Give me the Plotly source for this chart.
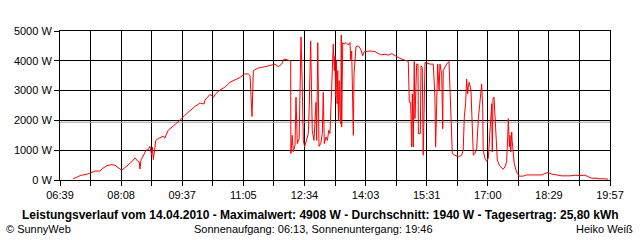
import plotly.graph_objects as go

# ---- data ----
tick_labels = ["06:39", "08:08", "09:37", "11:05", "12:34", "14:03", "15:31", "17:00", "18:29", "19:57"]
y_ticks = [0, 1000, 2000, 3000, 4000, 5000]
y_tick_labels = ["0 W", "1000 W", "2000 W", "3000 W", "4000 W", "5000 W"]
average_w = 1940

# time in minutes since midnight
minutes = [418, 423, 429, 438, 445, 450, 457, 461, 467, 474, 479, 484, 488.5, 492, 496, 499, 503, 508, 511, 514, 515, 516.5,
           520, 524, 527, 529.5, 532, 533, 534.5, 538, 541.6, 549, 551, 556, 558.6, 566, 573, 580, 587.6, 595, 602, 608, 609,
           616.6, 622, 624, 631, 638, 645.7, 653, 660, 667, 672, 674.7, 676, 677.6, 679.5, 686.7, 696, 703.7, 708.5, 711,
           715.7, 720.7, 724, 730, 733.7, 734, 736, 737.5, 740, 741.4, 743.3, 746, 748.7, 750.5, 752, 754, 757, 759.3, 760.7,
           762.7, 764, 765, 767.5, 770.4, 771.4, 773, 774.8, 777.3, 779.6, 781, 782.5, 785, 787, 789, 790.7, 792.6, 794.7,
           795.5, 797, 798, 799, 800, 801, 802, 803, 804, 805.3, 806.3, 807.1, 807.7, 809.2, 811, 814, 817.3, 819.8, 820.8,
           822.2, 823, 824.6, 825.6, 827, 828.5, 831.8, 835.3, 838.2, 840.5, 848.8, 856, 860.8, 865.8, 870.5, 875.3, 880.3,
           885, 889.8, 894.8, 900.6, 904.3, 905.8, 907.8, 909.3, 910.2, 911.6, 913, 914, 916.5, 918.4, 919, 921.8, 922.8,
           924.6, 926, 928.6, 935.8, 940.6, 943, 944, 945.6, 947, 949, 950.3, 952.8, 954.3, 955, 957.6, 960, 963.4, 964.9,
           966.3, 968.2, 972, 977, 981.8, 984, 985.6, 987.6, 989, 990.5, 991.4, 992.8, 995.3, 997.2, 998.7, 1001, 1003.6,
           1006, 1008.4, 1010.8, 1012.3, 1013, 1015.6, 1018, 1020.4, 1023, 1024.3, 1025.4, 1026.2, 1027.2, 1028.7, 1030,
           1031.6, 1033.5, 1036.4, 1040, 1042, 1044.6, 1047, 1048.6, 1049.5, 1051, 1052, 1053, 1054.4, 1055, 1056.7, 1058,
           1060.6, 1062.5, 1065.4, 1071, 1076, 1085.7, 1093, 1098, 1102.7, 1107.5, 1112.4, 1119.7, 1127, 1139, 1146, 1153.5,
           1160.7, 1165.5, 1170.4, 1177.7, 1182.5, 1189.8, 1194.5]
power_w = [40, 90, 155, 190, 245, 300, 300, 390, 480, 520, 490, 420, 330, 390, 470, 530, 610, 745, 645, 600, 370, 670,
           830, 1000, 1020, 1130, 830, 1100, 690, 1330, 1390, 1470, 1400, 1670, 1720, 1860, 2000, 2170, 2330, 2470, 2580, 2550, 2670,
           2870, 2780, 2870, 3020, 3110, 3280, 3360, 3440, 3560, 3560, 3500, 2890, 2130, 3670, 3760, 3800, 3830, 3870, 3890,
           3800, 3890, 4060, 4020, 4000, 890, 1500, 950, 1170, 2780, 1220, 1390, 4800, 3170, 1330, 1110, 1390, 1560, 2500,
           4670, 2900, 1670, 1330, 2610, 1330, 4610, 1130, 1220, 1560, 2940, 1220, 1440, 1330, 1670, 1560, 2670, 4220,
           4560, 3670, 4170, 2780, 4000, 2560, 3670, 2000, 3330, 2220, 1890, 4870, 1780, 4610, 4560, 4610, 4530, 4610, 4000,
           4330, 3670, 1500, 3560, 4110, 4470, 4500, 4390, 4170, 4310, 4330, 4310, 4240, 4200, 4220, 4190, 4240,
           4170, 4110, 4060, 4000, 3980, 2610, 2610, 1110, 2890, 1110, 3980, 2060, 3890, 3890, 1560, 1560, 3830,
           3780, 830, 3940, 3890, 3890, 2780, 1110, 3220, 3890, 3000, 3890, 3560, 1720, 3670, 3780, 3890, 3980, 3110,
           1670, 890, 830, 780, 830, 1000, 2110, 2610, 3390, 2890, 3110, 3280, 3000, 1830, 830, 890, 1060,
           2060, 2780, 3220, 2440, 1000, 720, 630, 720, 1670, 2220, 2560, 940, 2720, 2780, 2170,
           1220, 670, 500, 390, 360, 440, 610, 1440, 2060, 1110, 1500, 940, 1610, 1330, 1000, 560,
           330, 220, 130, 130, 170, 170, 190, 170, 220, 250, 200, 160, 140, 140, 160, 150,
           160, 110, 60, 60, 40, 40, 30]

title_text = "Leistungsverlauf vom 14.04.2010 - Maximalwert: 4908 W - Durchschnitt: 1940 W - Tagesertrag: 25,80 kWh"
left_note = "© SunnyWeb"
center_note = "Sonnenaufgang: 06:13, Sonnenuntergang: 19:46"
right_note = "Heiko Weiß"


def to_min(s):
    h, m = s.split(":")
    return int(h) * 60 + int(m)


t_start = to_min(tick_labels[0])
t_end = to_min(tick_labels[-1])
n_int = (len(tick_labels) - 1) * 2
x_ticks = [t_start + i * (t_end - t_start) / n_int for i in range(n_int + 1)]
x_text = [tick_labels[i // 2] if i % 2 == 0 else "" for i in range(n_int + 1)]

FONT = "Liberation Sans, Arial, sans-serif"

fig = go.Figure()
fig.add_trace(go.Scatter(x=[t_start, t_end], y=[average_w, average_w], mode="lines",
                         line=dict(color="#a0a0a0", width=1), hoverinfo="skip", showlegend=False))
fig.add_trace(go.Scatter(x=minutes, y=power_w, mode="lines",
                         line=dict(color="#ff0000", width=1), showlegend=False))

axis_common = dict(showgrid=True, gridcolor="black", gridwidth=1, showline=True, linecolor="black",
                   linewidth=1, mirror=True, ticks="outside", ticklen=5, tickcolor="black", tickwidth=1,
                   zeroline=False, tickfont=dict(family=FONT, size=11, color="black"))

fig.update_xaxes(range=[t_start, t_end], tickmode="array", tickvals=x_ticks, ticktext=x_text, **axis_common)
fig.update_yaxes(range=[0, 5000], tickmode="array", tickvals=y_ticks, ticktext=y_tick_labels, **axis_common)

W0, PW, PT, PH = 60, 550, 31, 149


def px(x):
    return (x - W0) / PW


def py(y):
    return (PT + PH - y) / PH


annots = [
    dict(text="<b>" + title_text + "</b>", x=px(320), y=py(215), xanchor="center", yanchor="middle",
         font=dict(family=FONT, size=12, color="black")),
    dict(text=left_note, x=px(4), y=py(229), xanchor="left", yanchor="middle",
         font=dict(family=FONT, size=11, color="black")),
    dict(text=center_note, x=px(313), y=py(229), xanchor="center", yanchor="middle",
         font=dict(family=FONT, size=11, color="black")),
    dict(text=right_note, x=px(635), y=py(229), xanchor="right", yanchor="middle",
         font=dict(family=FONT, size=11, color="black")),
]
for a in annots:
    a.update(xref="paper", yref="paper", showarrow=False)

fig.update_layout(width=640, height=240, margin=dict(l=W0, r=640 - W0 - PW, t=PT, b=240 - PT - PH),
                  paper_bgcolor="white", plot_bgcolor="white", annotations=annots,
                  font=dict(family=FONT, size=11, color="black"))

fig.write_html("out.html")
